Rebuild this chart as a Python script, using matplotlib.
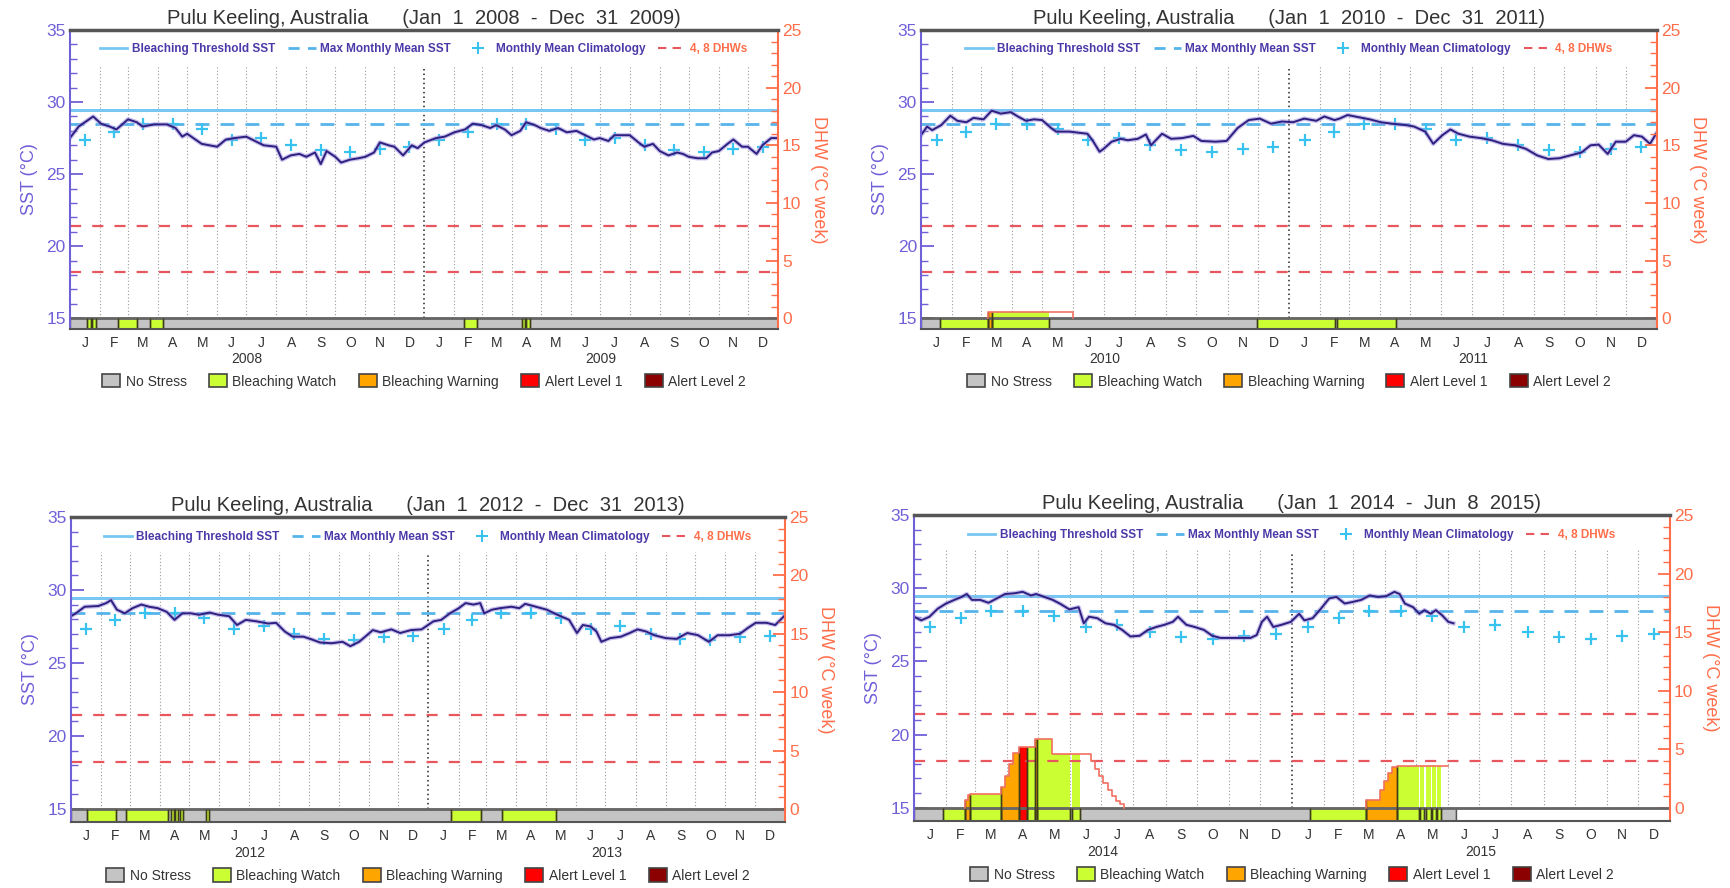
import numpy as np
import matplotlib.pyplot as plt
import matplotlib.dates as mdates
from matplotlib.lines import Line2D
from matplotlib.patches import Patch

plt.rcParams['font.family'] = ['Liberation Sans', 'DejaVu Sans']

# ---- data ----
threshold_sst = 29.45
mmm_sst = 28.45
clim_vals = [27.35, 27.95, 28.45, 28.45, 28.1, 27.35, 27.5, 27.0, 26.65, 26.55, 26.75, 26.85]
month_letters = ['J', 'F', 'M', 'A', 'M', 'J', 'J', 'A', 'S', 'O', 'N', 'D']
stress_names = ['No Stress', 'Bleaching Watch', 'Bleaching Warning', 'Alert Level 1', 'Alert Level 2']
stress_colors = ['#c4c4c4', '#ccff33', '#ffa500', '#ff0000', '#8b0000']

# 2008-2009
sst_dates_08 = ['2008-01-01', '2008-01-10', '2008-01-25', '2008-02-02', '2008-02-11', '2008-02-18',
                '2008-03-01', '2008-03-10', '2008-03-16', '2008-03-28', '2008-04-10', '2008-04-19',
                '2008-04-26', '2008-05-01', '2008-05-16', '2008-06-01', '2008-06-10', '2008-06-19',
                '2008-07-01', '2008-07-10', '2008-07-19', '2008-08-01', '2008-08-07', '2008-08-16',
                '2008-08-25', '2008-09-01', '2008-09-10', '2008-09-16', '2008-09-22', '2008-10-01',
                '2008-10-07', '2008-10-16', '2008-10-25', '2008-11-01', '2008-11-10', '2008-11-16',
                '2008-11-25', '2008-12-01', '2008-12-10', '2008-12-19', '2008-12-25', '2009-01-01',
                '2009-01-13', '2009-01-22', '2009-02-01', '2009-02-12', '2009-02-20', '2009-03-01',
                '2009-03-10', '2009-03-16', '2009-03-25', '2009-04-01', '2009-04-10', '2009-04-16',
                '2009-04-25', '2009-05-01', '2009-05-10', '2009-05-19', '2009-05-28', '2009-06-07',
                '2009-06-16', '2009-06-25', '2009-07-01', '2009-07-10', '2009-07-16', '2009-07-25',
                '2009-08-01', '2009-08-10', '2009-08-16', '2009-08-25', '2009-09-01', '2009-09-10',
                '2009-09-19', '2009-09-25', '2009-10-01', '2009-10-10', '2009-10-19', '2009-10-25',
                '2009-11-01', '2009-11-10', '2009-11-16', '2009-11-25', '2009-12-01', '2009-12-10',
                '2009-12-16', '2009-12-25', '2009-12-31']
sst_vals_08 = [27.5, 28.3, 29.0, 28.5, 28.3, 28.1, 28.8, 28.6, 28.3, 28.45, 28.45, 28.2,
               27.6, 27.8, 27.1, 26.9, 27.4, 27.5, 27.6, 27.3, 27.0, 26.9, 26.0, 26.3,
               26.4, 26.2, 26.5, 25.7, 26.6, 26.2, 25.8, 26.0, 26.1, 26.2, 26.5, 27.2,
               27.0, 26.9, 26.3, 27.0, 26.8, 27.2, 27.5, 27.6, 27.9, 28.1, 28.5, 28.4,
               28.2, 28.4, 28.1, 27.7, 28.0, 28.6, 28.4, 28.2, 28.0, 28.2, 27.9, 28.0,
               27.7, 27.4, 27.5, 27.3, 27.7, 27.7, 27.7, 27.2, 26.9, 27.1, 26.6, 26.3,
               26.5, 26.4, 26.2, 26.1, 26.1, 26.5, 26.6, 27.1, 27.4, 26.9, 26.9, 26.4,
               27.0, 27.5, 27.5]
seg_start_08 = ['2008-01-19', '2008-01-24', '2008-02-20', '2008-03-24', '2009-02-11', '2009-04-12', '2009-04-16']
seg_end_08 = ['2008-01-23', '2008-01-28', '2008-03-10', '2008-04-06', '2009-02-24', '2009-04-15', '2009-04-20']
seg_level_08 = [1, 1, 1, 1, 1, 1, 1]
seg_top_08 = [0, 0, 0, 0, 0, 0, 0]

# 2010-2011
sst_dates_10 = ['2010-01-01', '2010-01-07', '2010-01-12', '2010-01-21', '2010-01-30', '2010-02-06',
                '2010-02-15', '2010-02-22', '2010-03-04', '2010-03-12', '2010-03-21', '2010-03-31',
                '2010-04-07', '2010-04-15', '2010-04-23', '2010-05-01', '2010-05-10', '2010-05-15',
                '2010-05-28', '2010-06-15', '2010-06-20', '2010-06-27', '2010-07-01', '2010-07-09',
                '2010-07-18', '2010-07-25', '2010-08-04', '2010-08-12', '2010-08-17', '2010-08-28',
                '2010-09-06', '2010-09-17', '2010-09-28', '2010-10-06', '2010-10-20', '2010-10-31',
                '2010-11-11', '2010-11-22', '2010-12-03', '2010-12-14', '2010-12-25', '2011-01-05',
                '2011-01-16', '2011-01-28', '2011-02-05', '2011-02-15', '2011-02-20', '2011-02-28',
                '2011-03-11', '2011-03-22', '2011-04-02', '2011-04-13', '2011-04-27', '2011-05-05',
                '2011-05-16', '2011-05-24', '2011-06-02', '2011-06-10', '2011-06-18', '2011-06-29',
                '2011-07-10', '2011-07-21', '2011-08-01', '2011-08-13', '2011-08-24', '2011-09-04',
                '2011-09-15', '2011-09-26', '2011-10-07', '2011-10-18', '2011-10-27', '2011-11-04',
                '2011-11-13', '2011-11-21', '2011-12-01', '2011-12-09', '2011-12-17', '2011-12-25',
                '2011-12-31']
sst_vals_10 = [27.7, 28.3, 28.05, 28.4, 29.05, 28.7, 28.6, 28.9, 28.8, 29.4, 29.2, 29.3,
               29.0, 28.7, 28.8, 28.75, 28.2, 27.95, 27.95, 27.8, 27.35, 26.55, 26.75, 27.25,
               27.45, 27.35, 27.45, 27.75, 27.0, 27.8, 27.45, 27.5, 27.65, 27.3, 27.25, 27.3,
               28.2, 28.75, 28.85, 28.5, 28.65, 28.6, 28.85, 28.7, 29.0, 28.75, 28.85, 29.1,
               28.95, 28.8, 28.6, 28.5, 28.4, 28.3, 27.95, 27.1, 27.7, 28.1, 27.8, 27.6,
               27.5, 27.35, 27.1, 27.0, 26.75, 26.3, 26.05, 26.1, 26.3, 26.5, 27.0, 27.05,
               26.4, 27.25, 27.25, 27.7, 27.6, 27.1, 27.8]
seg_start_10 = ['2010-01-20', '2010-03-08', '2010-03-12', '2010-11-30', '2011-02-18']
seg_end_10 = ['2010-03-08', '2010-03-12', '2010-05-08', '2011-02-16', '2011-04-17']
seg_level_10 = [1, 2, 1, 1, 1]
seg_top_10 = [0, 0.55, 0.55, 0, 0]
dhw_dates_10 = ['2010-03-08', '2010-03-08', '2010-06-01']
dhw_vals_10 = [0, 0.55, 0]

# 2012-2013
sst_dates_12 = ['2012-01-01', '2012-01-06', '2012-01-15', '2012-01-29', '2012-02-06', '2012-02-11',
                '2012-02-17', '2012-02-25', '2012-03-04', '2012-03-13', '2012-03-21', '2012-03-30',
                '2012-04-08', '2012-04-16', '2012-04-24', '2012-05-03', '2012-05-11', '2012-05-22',
                '2012-05-31', '2012-06-11', '2012-06-19', '2012-06-28', '2012-07-09', '2012-07-21',
                '2012-07-29', '2012-08-07', '2012-08-15', '2012-08-26', '2012-09-04', '2012-09-12',
                '2012-09-24', '2012-10-05', '2012-10-13', '2012-10-22', '2012-10-30', '2012-11-05',
                '2012-11-13', '2012-11-24', '2012-12-03', '2012-12-14', '2012-12-25', '2013-01-06',
                '2013-01-14', '2013-01-23', '2013-02-01', '2013-02-08', '2013-02-16', '2013-02-23',
                '2013-02-27', '2013-03-07', '2013-03-15', '2013-03-27', '2013-04-04', '2013-04-10',
                '2013-04-21', '2013-05-02', '2013-05-13', '2013-05-25', '2013-06-02', '2013-06-08',
                '2013-06-16', '2013-06-22', '2013-06-27', '2013-07-06', '2013-07-17', '2013-07-26',
                '2013-08-03', '2013-08-12', '2013-08-20', '2013-09-01', '2013-09-12', '2013-09-23',
                '2013-10-04', '2013-10-15', '2013-10-24', '2013-11-05', '2013-11-16', '2013-11-24',
                '2013-12-02', '2013-12-13', '2013-12-22', '2013-12-31']
sst_vals_12 = [28.2, 28.4, 28.85, 28.9, 29.1, 29.3, 28.65, 28.4, 28.75, 29.0, 28.85, 28.75,
               28.5, 27.95, 28.4, 28.4, 28.3, 28.45, 28.3, 28.2, 27.6, 27.95, 27.85, 27.7,
               27.75, 27.15, 26.8, 26.8, 26.6, 26.4, 26.35, 26.45, 26.15, 26.45, 26.9, 27.25,
               27.1, 27.3, 27.05, 27.25, 27.3, 27.85, 27.95, 28.4, 28.75, 29.1, 29.0, 29.1,
               28.4, 28.65, 28.75, 28.85, 28.75, 29.05, 28.85, 28.65, 28.3, 27.95, 27.05, 27.6,
               27.5, 27.15, 26.45, 26.7, 26.8, 27.05, 27.3, 27.15, 26.9, 26.7, 26.65, 27.05,
               26.9, 26.45, 26.9, 26.9, 27.0, 27.4, 27.75, 27.75, 27.6, 28.2]
seg_start_12 = ['2012-01-17', '2012-02-26', '2012-04-12', '2012-04-17', '2012-04-22', '2012-05-18',
                '2013-01-24', '2013-03-17']
seg_end_12 = ['2012-02-16', '2012-04-09', '2012-04-15', '2012-04-20', '2012-04-25', '2012-05-21',
              '2013-02-24', '2013-05-12']
seg_level_12 = [1, 1, 1, 1, 1, 1, 1, 1]
seg_top_12 = [0, 0, 0, 0, 0, 0, 0, 0]

# 2014-2015 (data end Jun 8 2015)
sst_dates_14 = ['2014-01-01', '2014-01-08', '2014-01-16', '2014-01-24', '2014-02-01', '2014-02-09',
                '2014-02-16', '2014-02-21', '2014-02-26', '2014-03-06', '2014-03-14', '2014-03-22',
                '2014-03-30', '2014-04-08', '2014-04-16', '2014-04-24', '2014-04-29', '2014-05-07',
                '2014-05-15', '2014-05-23', '2014-05-31', '2014-06-09', '2014-06-14', '2014-06-19',
                '2014-06-27', '2014-07-05', '2014-07-13', '2014-07-21', '2014-07-29', '2014-08-07',
                '2014-08-15', '2014-08-23', '2014-08-31', '2014-09-08', '2014-09-13', '2014-09-21',
                '2014-09-29', '2014-10-08', '2014-10-16', '2014-10-24', '2014-11-04', '2014-11-15',
                '2014-11-22', '2014-11-28', '2014-12-03', '2014-12-08', '2014-12-14', '2014-12-22',
                '2014-12-31', '2015-01-08', '2015-01-13', '2015-01-21', '2015-01-29', '2015-02-06',
                '2015-02-13', '2015-02-21', '2015-02-28', '2015-03-09', '2015-03-17', '2015-03-25',
                '2015-04-02', '2015-04-10', '2015-04-15', '2015-04-20', '2015-04-28', '2015-05-04',
                '2015-05-09', '2015-05-15', '2015-05-20', '2015-05-26', '2015-06-01', '2015-06-06']
sst_vals_14 = [28.05, 27.8, 28.05, 28.6, 28.95, 29.2, 29.4, 29.6, 29.2, 29.2, 29.0, 29.3,
               29.6, 29.65, 29.75, 29.5, 29.6, 29.4, 29.2, 28.9, 28.55, 28.7, 27.6, 28.05,
               27.95, 27.6, 27.5, 27.15, 26.7, 26.75, 27.15, 27.35, 27.5, 27.7, 28.05, 27.5,
               27.35, 27.15, 26.75, 26.6, 26.6, 26.6, 26.6, 26.8, 27.7, 28.05, 27.35, 27.5,
               27.7, 28.25, 27.8, 27.95, 28.6, 29.3, 29.4, 28.95, 29.05, 29.2, 29.5, 29.4,
               29.45, 29.75, 29.6, 28.95, 28.7, 28.25, 28.5, 28.25, 28.5, 28.15, 27.7, 27.6]
seg_start_14 = ['2014-01-29', '2014-02-19', '2014-02-22', '2014-02-24', '2014-03-26', '2014-03-30',
                '2014-04-03', '2014-04-07', '2014-04-12', '2014-04-20', '2014-04-28', '2014-04-30',
                '2014-05-14', '2014-06-03',
                '2015-01-18', '2015-03-14', '2015-03-27', '2015-03-31', '2015-04-04', '2015-04-08',
                '2015-04-12', '2015-05-01', '2015-05-05', '2015-05-10', '2015-05-16', '2015-05-21']
seg_end_14 = ['2014-02-19', '2014-02-22', '2014-02-24', '2014-03-26', '2014-03-30', '2014-04-03',
              '2014-04-07', '2014-04-12', '2014-04-20', '2014-04-28', '2014-04-30', '2014-05-14',
              '2014-06-01', '2014-06-10',
              '2015-03-14', '2015-03-27', '2015-03-31', '2015-04-04', '2015-04-08', '2015-04-12',
              '2015-05-01', '2015-05-04', '2015-05-09', '2015-05-15', '2015-05-20', '2015-05-25']
seg_level_14 = [1, 2, 2, 1, 2, 2, 2, 2, 3, 1, 2, 1, 1, 1,
                1, 2, 2, 2, 2, 2, 1, 1, 1, 1, 1, 1]
seg_top_14 = [0, 0.7, 1.1, 1.15, 1.8, 2.7, 3.7, 4.7, 5.15, 5.15, 5.85, 5.85, 4.6, 4.6,
              0, 0.65, 1.5, 2.3, 3.0, 3.5, 3.55, 3.55, 3.55, 3.55, 3.55, 3.55]
dhw_dates_14 = ['2014-02-19', '2014-02-19', '2014-02-22', '2014-02-24', '2014-03-26', '2014-03-30',
                '2014-04-03', '2014-04-07', '2014-04-12', '2014-04-28', '2014-05-14', '2014-06-21',
                '2014-06-25', '2014-06-29', '2014-07-03', '2014-07-07', '2014-07-11', '2014-07-15',
                '2014-07-19', '2014-07-23']
dhw_vals_14 = [0, 0.7, 1.1, 1.15, 1.8, 2.7, 3.7, 4.7, 5.15, 5.85, 4.6, 4.0,
               3.3, 2.7, 2.1, 1.5, 1.0, 0.6, 0.3, 0]
dhw_dates_15 = ['2015-03-14', '2015-03-14', '2015-03-27', '2015-03-31', '2015-04-04', '2015-04-08',
                '2015-04-12', '2015-06-01']
dhw_vals_15 = [0, 0.65, 1.5, 2.3, 3.0, 3.5, 3.6, 3.6]

# ---- styling ----
PURPLE = '#7060d8'
LEGEND_PURPLE = '#4a3aa8'
ORANGE = '#ff6e4a'
LINE_COLOR = '#2e2080'
THR_COLOR = '#78c6f2'
MMM_COLOR = '#55b4ea'
CLIM_COLOR = '#38c2f0'
DHW_DASH = '#e8565e'
DHW_LINE = '#f07060'
EDGE = '#3d3d1a'
TEXT = '#333333'


def dnum(strings):
    return mdates.date2num(np.array(strings, dtype='datetime64[D]'))


fig = plt.figure(figsize=(17.31, 8.88), dpi=100)


def draw_panel(rect, year0, ybot, title, sst_dates, sst_vals, seg_start, seg_end, seg_level,
               seg_top, dhw_lines, data_end=None):
    ax = fig.add_axes(rect)
    ax2 = ax.twinx()
    dbot = (ybot - 15) * 1.25
    months = np.arange(np.datetime64(f'{year0}-01'), np.datetime64(f'{year0 + 2}-02'))
    mstart = mdates.date2num(months.astype('datetime64[D]'))
    mids = (mstart[:-1] + mstart[1:]) / 2
    x0, x1 = mstart[0], mstart[-1]
    ax.set_xlim(x0, x1)
    ax.set_ylim(ybot, 35)
    ax2.set_ylim(dbot, 25)

    # month grid
    for i, xs in enumerate(mstart[1:-1], start=1):
        if i == 12:
            ax.vlines(xs, 15, 32.4, colors='#222222', linestyles=(0, (1, 2)), lw=1.1)
        else:
            ax.vlines(xs, 15, 32.6, colors='#9a9a9a', linestyles=(0, (1, 2)), lw=0.8)

    ax.axhline(threshold_sst, color=THR_COLOR, lw=2.2)
    ax.axhline(mmm_sst, color=MMM_COLOR, lw=2, ls=(0, (5, 4)))
    ax.plot(mids, clim_vals * 2, ls='none', marker='+', ms=9, mew=1.6, color=CLIM_COLOR)
    sx = dnum(sst_dates)
    ax.plot(sx, sst_vals, color='#a898e0', lw=3.2, alpha=0.6, solid_joinstyle='round')
    ax.plot(sx, sst_vals, color=LINE_COLOR, lw=1.4)

    # DHW reference lines
    for lvl in (4, 8):
        ax2.axhline(lvl, color=DHW_DASH, lw=1.6, ls=(0, (5, 5)))

    # stress strip
    xend = dnum([data_end])[0] if data_end else x1
    ax2.bar(x0, -dbot, width=xend - x0, bottom=dbot, align='edge', color=stress_colors[0],
            edgecolor='#555555', lw=1)
    if data_end:
        ax2.bar(xend, -dbot, width=x1 - xend, bottom=dbot, align='edge', color='white',
                edgecolor='#555555', lw=1)
    ax2.hlines(0, x0, x1, colors='#666666', lw=2)
    s = dnum(seg_start)
    e = dnum(seg_end)
    runs = []
    for a, b, lv, tp in zip(s, e, seg_level, seg_top):
        ax2.bar(a, tp - dbot, width=b - a, bottom=dbot, align='edge', color=stress_colors[lv],
                lw=0)
        if runs and runs[-1][2] == lv and abs(runs[-1][1] - a) < 0.5:
            runs[-1][1] = b
            runs[-1][4] = tp
        else:
            runs.append([a, b, lv, tp, tp])
    starts = [r[0] for r in runs]
    ends = [r[1] for r in runs]
    for a, b, lv, t0, t1 in runs:
        ax2.bar(a, -dbot, width=b - a, bottom=dbot, align='edge', color='none',
                edgecolor=EDGE, lw=1)
        # full-height edge only where another level follows directly
        touch_a = any(abs(a - x) < 0.5 for x in ends)
        touch_b = any(abs(b - x) < 0.5 for x in starts)
        ax2.vlines([a], dbot, max(t0, 0) if touch_a else 0, colors=EDGE, lw=1)
        ax2.vlines([b], dbot, max(t1, 0) if touch_b else 0, colors=EDGE, lw=1)
    for dd, vv in dhw_lines:
        ax2.plot(dnum(dd), vv, drawstyle='steps-post', color=DHW_LINE, lw=1.2)

    # axes styling
    for sp in ax.spines.values():
        sp.set_visible(False)
    ax2.spines['left'].set_color(PURPLE)
    ax2.spines['left'].set_linewidth(1.5)
    ax2.spines['right'].set_color(ORANGE)
    ax2.spines['right'].set_linewidth(1.5)
    ax2.spines['top'].set_color('#555555')
    ax2.spines['top'].set_linewidth(2.5)
    ax2.spines['bottom'].set_color('#555555')
    ax2.spines['bottom'].set_linewidth(1.5)

    ax.set_yticks([15, 20, 25, 30, 35])
    ax.set_yticks(np.arange(15, 36), minor=True)
    ax.tick_params(axis='y', which='major', direction='in', length=9, width=1.3, color=PURPLE,
                   labelcolor=PURPLE, labelsize=12.5, pad=3)
    ax.tick_params(axis='y', which='minor', direction='in', length=5, width=1, color=PURPLE)
    ax2.set_yticks([0, 5, 10, 15, 20, 25])
    ax2.set_yticks(np.arange(0, 26), minor=True)
    ax2.tick_params(axis='y', which='major', direction='in', length=9, width=1.3, color=ORANGE,
                    labelcolor=ORANGE, labelsize=12.5, pad=3)
    ax2.tick_params(axis='y', which='minor', direction='in', length=5, width=1, color=ORANGE)

    ax.set_xticks(mids)
    ax.set_xticklabels(month_letters * 2)
    ax.tick_params(axis='x', length=0, pad=5, labelsize=10, labelcolor=TEXT)
    for k in range(2):
        ax.text((mstart[12 * k] + mstart[12 * k + 12]) / 2, -0.1, str(year0 + k),
                transform=ax.get_xaxis_transform(), ha='center', va='center',
                fontsize=10, color=TEXT)

    ax.set_ylabel('SST (°C)', color=PURPLE, fontsize=13, labelpad=6)
    ax2.set_ylabel('DHW (°C week)', color=ORANGE, fontsize=13, rotation=270,
                   va='bottom', labelpad=6)
    ax.set_title(title, fontsize=14.5, color=TEXT, pad=4)

    # inside legend
    handles = [Line2D([], [], color=THR_COLOR, lw=2),
               Line2D([], [], color=MMM_COLOR, lw=2, ls=(0, (4, 3))),
               Line2D([], [], color=CLIM_COLOR, ls='none', marker='+', ms=8, mew=1.5),
               Line2D([], [], color=DHW_DASH, lw=1.5, ls=(0, (4, 3)))]
    labels = ['Bleaching Threshold SST', 'Max Monthly Mean SST', 'Monthly Mean Climatology',
              '4, 8 DHWs']
    leg = ax2.legend(handles, labels, ncol=4, loc='center', bbox_to_anchor=(0.5, 0.935),
                     frameon=False, prop={'size': 8.5, 'weight': 'bold'}, handlelength=2.3,
                     handletextpad=0.4, columnspacing=1.1, borderaxespad=0)
    for i, t in enumerate(leg.get_texts()):
        t.set_color(ORANGE if i == 3 else LEGEND_PURPLE)

    # stress legend
    patches = [Patch(facecolor=c, edgecolor='#444444', lw=1.2) for c in stress_colors]
    ax.legend(patches, stress_names, ncol=5, loc='center', bbox_to_anchor=(0.5, -0.175),
              frameon=False, fontsize=10, handlelength=1.3, handleheight=1.1,
              handletextpad=0.4, columnspacing=1.6, labelcolor=TEXT)


draw_panel([0.0404, 0.6295, 0.4090, 0.3367], 2008, 14.25,
           'Pulu Keeling, Australia      (Jan  1  2008  -  Dec  31  2009)',
           sst_dates_08, sst_vals_08, seg_start_08, seg_end_08, seg_level_08, seg_top_08, [])
draw_panel([0.5321, 0.6295, 0.4252, 0.3367], 2010, 14.25,
           'Pulu Keeling, Australia      (Jan  1  2010  -  Dec  31  2011)',
           sst_dates_10, sst_vals_10, seg_start_10, seg_end_10, seg_level_10, seg_top_10,
           [(dhw_dates_10, dhw_vals_10)])
draw_panel([0.0410, 0.0743, 0.4125, 0.3435], 2012, 14.1,
           'Pulu Keeling, Australia      (Jan  1  2012  -  Dec  31  2013)',
           sst_dates_12, sst_vals_12, seg_start_12, seg_end_12, seg_level_12, seg_top_12, [])
draw_panel([0.5280, 0.0755, 0.4367, 0.3446], 2014, 14.1,
           'Pulu Keeling, Australia      (Jan  1  2014  -  Jun  8  2015)',
           sst_dates_14, sst_vals_14, seg_start_14, seg_end_14, seg_level_14, seg_top_14,
           [(dhw_dates_14, dhw_vals_14), (dhw_dates_15, dhw_vals_15)], data_end='2015-06-08')

fig.savefig('out.png', dpi=100)
